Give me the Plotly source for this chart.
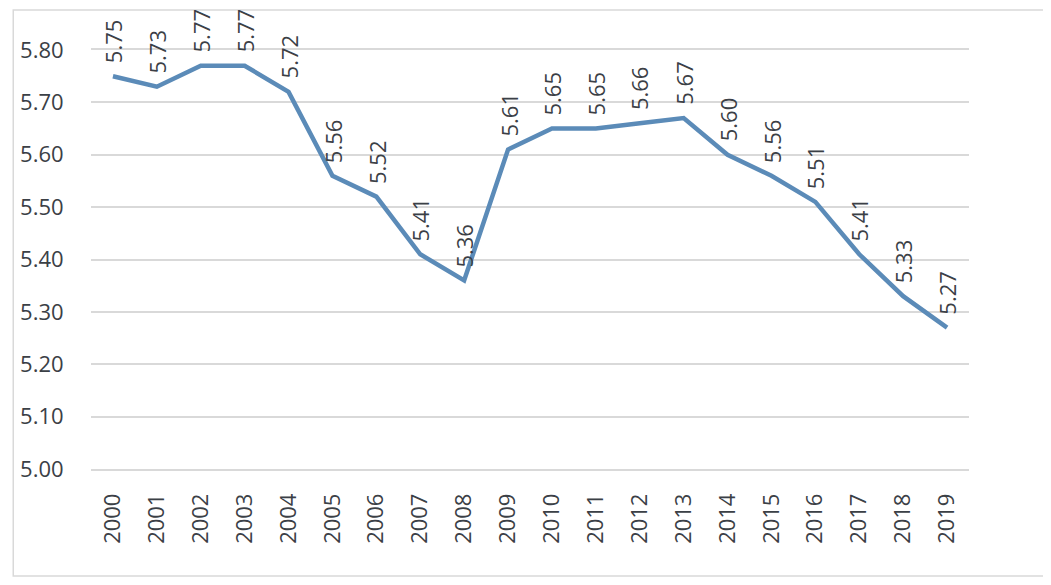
import plotly.graph_objects as go

years = [str(y) for y in range(2000, 2020)]
values = [5.75, 5.73, 5.77, 5.77, 5.72, 5.56, 5.52, 5.41, 5.36, 5.61,
          5.65, 5.65, 5.66, 5.67, 5.60, 5.56, 5.51, 5.41, 5.33, 5.27]
y_ticks = [5.00, 5.10, 5.20, 5.30, 5.40, 5.50, 5.60, 5.70, 5.80]

# page body has an 8px margin; figure sized so the page does not overflow
W, H = 1043, 569
OFF = 8
ML, MT = 88 - OFF, 50 - OFF
MR = W - (969 - OFF)
MB = H - (469 - OFF)
pw, ph = W - ML - MR, H - MT - MB

TXT = "#3b4046"
FONT = "Open Sans"

fig = go.Figure()
fig.add_trace(go.Scatter(
    x=years, y=values, mode="lines",
    line=dict(color="#5b8bb8", width=4.5),
    hoverinfo="skip",
))

annotations = []
for i, v in enumerate(values):
    annotations.append(dict(
        x=i, y=v, xref="x", yref="y", text=f"{v:.2f}", showarrow=False,
        textangle=-90, xanchor="center", yanchor="bottom", yshift=11,
        font=dict(family=FONT, size=22, color=TXT),
    ))

def px_to_paper_x(px):
    return (px - OFF - ML) / pw

def px_to_paper_y(py):
    return (H - MB - (py - OFF)) / ph

shapes = [dict(
    type="rect", xref="paper", yref="paper",
    x0=px_to_paper_x(10), x1=px_to_paper_x(1100),
    y0=px_to_paper_y(576), y1=px_to_paper_y(10),
    line=dict(color="#d9d9d9", width=1.5), fillcolor="rgba(0,0,0,0)", layer="below",
)]

fig.update_layout(
    width=W, height=H,
    margin=dict(l=ML, r=MR, t=MT, b=MB),
    paper_bgcolor="white", plot_bgcolor="white",
    showlegend=False,
    annotations=annotations,
    shapes=shapes,
    xaxis=dict(
        type="category", categoryorder="array", categoryarray=years,
        range=[-0.5, len(years) - 0.5],
        showgrid=False, zeroline=False,
        showline=True, linecolor="#d9d9d9", linewidth=1.5, mirror=True,
        ticks="outside", ticklen=14, tickcolor="rgba(0,0,0,0)",
        tickangle=-90,
        tickfont=dict(family=FONT, size=22, color=TXT),
    ),
    yaxis=dict(
        range=[5.0, 5.8],
        tickvals=y_ticks, ticktext=[f"{t:.2f}" for t in y_ticks],
        showgrid=True, gridcolor="#d9d9d9", gridwidth=1.5,
        zeroline=False, showline=False,
        ticks="outside", ticklen=22, tickcolor="rgba(0,0,0,0)",
        tickfont=dict(family=FONT, size=22, color=TXT),
    ),
)

fig.write_html("out.html")
